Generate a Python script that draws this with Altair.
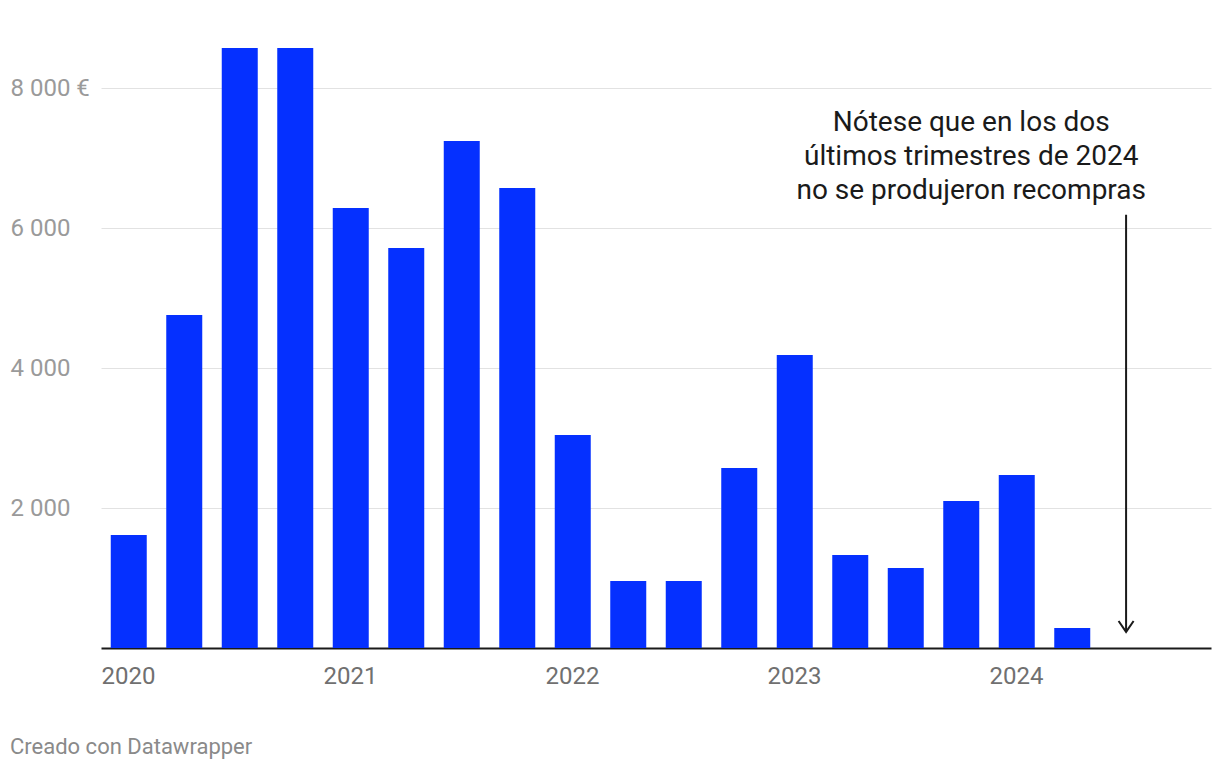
import altair as alt
import pandas as pd

# Data: quarterly buybacks (euros)
quarters = ["2020-T1", "2020-T2", "2020-T3", "2020-T4",
            "2021-T1", "2021-T2", "2021-T3", "2021-T4",
            "2022-T1", "2022-T2", "2022-T3", "2022-T4",
            "2023-T1", "2023-T2", "2023-T3", "2023-T4",
            "2024-T1", "2024-T2"]
values = [1614, 4757, 8571, 8571,
          6286, 5714, 7243, 6571,
          3043, 957, 957, 2571,
          4186, 1329, 1143, 2100,
          2471, 286]

year_ticks = [0, 4, 8, 12, 16]
year_labels = ["2020", "2021", "2022", "2023", "2024"]
y_ticks = [2000, 4000, 6000, 8000]
y_labels = ["2 000", "4 000", "6 000", "8 000 €"]

note_text = ["Nótese que en los dos", "últimos trimestres de 2024", "no se produjeron recompras"]

FONT = "Roboto"
BLUE = "#0530ff"

df = pd.DataFrame({"trimestre": quarters, "valor": values})
df["pos"] = [i + 0.5 for i in range(len(quarters))]

x_label_expr = " : ".join(
    [f"datum.value == {v} ? '{l}'" for v, l in zip(year_ticks, year_labels)]) + " : ''"
y_label_expr = " : ".join(
    [f"datum.value == {v} ? '{l}'" for v, l in zip(y_ticks, y_labels)]) + " : ''"

x_scale = alt.Scale(domain=[0, 20], nice=False, zero=False, padding=0)
y_scale = alt.Scale(domain=[0, 9000], nice=False)

x_axis = alt.Axis(values=year_ticks, labelExpr=x_label_expr, title=None,
                  grid=False, ticks=False, tickSize=0, labelAlign="left",
                  labelBaseline="top", labelPadding=16, labelFont=FONT,
                  labelFontSize=24, labelColor="#707070",
                  domainColor="#1a1a1a", domainWidth=2)
y_axis = alt.Axis(values=y_ticks, labelExpr=y_label_expr, title=None,
                  grid=True, gridColor="#e2e2e2", gridWidth=1,
                  ticks=False, tickSize=0, domain=False,
                  labelAlign="left", labelBaseline="middle",
                  labelPadding=91, labelFont=FONT, labelFontSize=24,
                  labelColor="#9a9a9a")

bars = alt.Chart(df).mark_bar(width=36, color=BLUE).encode(
    x=alt.X("pos:Q", scale=x_scale, axis=x_axis),
    y=alt.Y("valor:Q", scale=y_scale, axis=y_axis),
    tooltip=["trimestre", "valor"],
)

note_df = pd.DataFrame({"x": [15.68], "y": [7500], "t": [note_text]})
note = alt.Chart(note_df).mark_text(
    font=FONT, fontSize=28, color="#1a1a1a", align="center",
    baseline="middle", lineHeight=34,
).encode(x=alt.X("x:Q", scale=x_scale, axis=x_axis),
         y=alt.Y("y:Q", scale=y_scale, axis=y_axis), text="t")

arrow_df = pd.DataFrame({"x": [18.47], "y": [6190], "y2": [230]})
arrow_line = alt.Chart(arrow_df).mark_rule(color="#1a1a1a", strokeWidth=2).encode(
    x=alt.X("x:Q", scale=x_scale, axis=x_axis),
    y=alt.Y("y:Q", scale=y_scale, axis=y_axis), y2="y2:Q")
arrow_head = alt.Chart(arrow_df).mark_point(
    shape="M-1,-1.45L0,0L1,-1.45", size=225, filled=False,
    stroke="#1a1a1a", strokeWidth=2, opacity=1,
).encode(x=alt.X("x:Q", scale=x_scale, axis=x_axis),
         y=alt.Y("y2:Q", scale=y_scale, axis=y_axis))

chart = alt.layer(bars, note, arrow_line, arrow_head).properties(
    width=1110, height=630,
    background="white",
    autosize=alt.AutoSizeParams(type="none"),
    padding={"left": 93, "top": 10, "right": 1, "bottom": 114},
    title=alt.TitleParams("Creado con Datawrapper", orient="bottom", anchor="start",
                          offset=49, font=FONT, fontSize=22,
                          fontWeight="normal", color="#8a8a8a"),
).configure_view(strokeWidth=0, stroke="transparent")

chart.save("out.html", embed_options={"renderer": "svg", "actions": False})
